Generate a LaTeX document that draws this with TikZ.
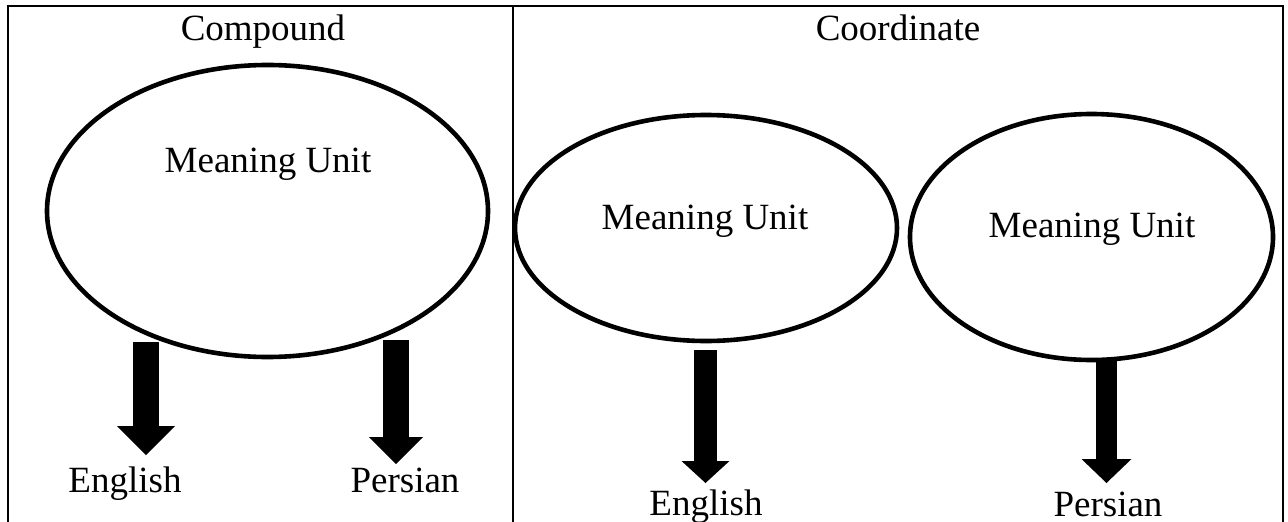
\documentclass[tikz,border=0pt]{standalone}
\usepackage{fontspec}
\setmainfont{Liberation Serif}
\usetikzlibrary{shapes.geometric,arrows.meta}
\begin{document}
\begin{tikzpicture}[x=1pt,y=-1pt,
  rule/.style={line width=2.5pt,line cap=rect},
  bubble/.style={draw,ellipse,line width=4.6pt,inner sep=0pt},
  txt/.style={font=\fontsize{37}{44}\selectfont,inner sep=0pt,anchor=base}
]
\useasboundingbox (0,0) rectangle (1288,522);
% table rules
\draw[rule] (8,522) -- (8,6) -- (1283,6) -- (1283,522);
\draw[rule] (513,6) -- (513,522);
% headers
\node[txt] (hc) at (263,40) {Compound};
\node[txt] (hd) at (898,40) {Coordinate};
% ellipses
\node[bubble,minimum width=441pt,minimum height=292pt] (e1) at (267.5,211) {};
\node[bubble,minimum width=382pt,minimum height=226pt] (e2) at (706,228) {};
\node[bubble,minimum width=363pt,minimum height=246pt] (e3) at (1091.5,237) {};
\node[txt] (m1) at (268,172) {Meaning Unit};
\node[txt] (m2) at (705,229) {Meaning Unit};
\node[txt] (m3) at (1092,237) {Meaning Unit};
% bottom labels
\node[txt] (l1) at (125,492) {English};
\node[txt] (l2) at (405,492) {Persian};
\node[txt] (l3) at (706,515) {English};
\node[txt] (l4) at (1108,516) {Persian};
% arrow ends
\coordinate (a1s) at (146,342); \coordinate (a1e) at (146,455);
\coordinate (a2s) at (396,340); \coordinate (a2e) at (396,464);
\coordinate (a3s) at (705.5,350); \coordinate (a3e) at (705.5,483);
\coordinate (a4s) at (1106.5,360); \coordinate (a4e) at (1106.5,483);
\draw[line width=26pt,-{Triangle[line width=0pt,width=58pt,length=29pt]}] (a1s) -- (a1e);
\draw[line width=26pt,-{Triangle[line width=0pt,width=54pt,length=27pt]}] (a2s) -- (a2e);
\draw[line width=23pt,-{Triangle[line width=0pt,width=48pt,length=22pt]}] (a3s) -- (a3e);
\draw[line width=21pt,-{Triangle[line width=0pt,width=50pt,length=24pt]}] (a4s) -- (a4e);
\end{tikzpicture}
\end{document}
